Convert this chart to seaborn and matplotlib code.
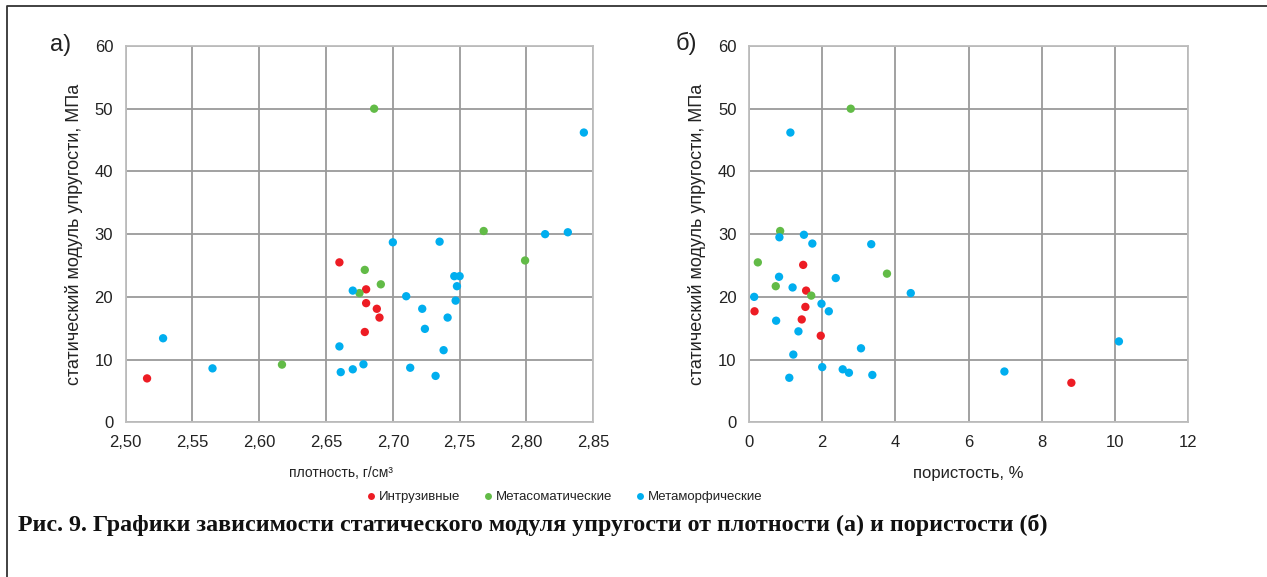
import pandas as pd
import matplotlib
matplotlib.use("Agg")
import matplotlib.pyplot as plt
from matplotlib.lines import Line2D
import seaborn as sns

# rock groups
groups = ["Интрузивные", "Метасоматические", "Метаморфические"]
colors = ["#ED1C24", "#62BB47", "#00AEEF"]

# panel a: density (g/cm3) vs static modulus (MPa)
dens_intr = [2.516, 2.660, 2.680, 2.680, 2.688, 2.690, 2.679]
mod_intr_a = [7.0, 25.5, 21.2, 19.0, 18.1, 16.7, 14.4]
dens_meta = [2.686, 2.679, 2.691, 2.675, 2.617, 2.768, 2.799]
mod_meta_a = [50.0, 24.3, 22.0, 20.6, 9.2, 30.5, 25.8]
dens_morph = [2.528, 2.565, 2.660, 2.661, 2.670, 2.678, 2.670, 2.700,
              2.710, 2.713, 2.722, 2.724, 2.732, 2.735, 2.738, 2.741,
              2.746, 2.750, 2.748, 2.747, 2.814, 2.831, 2.843]
mod_morph_a = [13.4, 8.6, 12.1, 8.0, 8.45, 9.25, 21.0, 28.7,
               20.1, 8.7, 18.1, 14.9, 7.4, 28.8, 11.5, 16.7,
               23.3, 23.3, 21.7, 19.4, 30.0, 30.3, 46.2]

# panel b: porosity (%) vs static modulus (MPa)
por_intr = [0.15, 1.48, 1.56, 1.54, 1.44, 1.96, 8.81]
mod_intr_b = [17.7, 25.1, 21.0, 18.4, 16.4, 13.8, 6.3]
por_meta = [2.78, 0.85, 0.24, 0.73, 1.70, 3.77]
mod_meta_b = [50.0, 30.5, 25.5, 21.7, 20.2, 23.7]
por_morph = [1.13, 0.83, 1.50, 1.73, 3.34, 0.82, 2.37, 1.19, 0.14,
             4.42, 1.98, 2.18, 0.74, 1.35, 3.06, 1.21, 10.11, 2.00,
             2.56, 2.73, 3.37, 1.10, 6.98]
mod_morph_b = [46.2, 29.5, 29.9, 28.5, 28.4, 23.2, 23.0, 21.5, 20.0,
               20.6, 18.9, 17.7, 16.2, 14.5, 11.8, 10.8, 12.9, 8.8,
               8.45, 7.9, 7.55, 7.1, 8.1]

y_ticks = [0, 10, 20, 30, 40, 50, 60]
dens_ticks = [2.50, 2.55, 2.60, 2.65, 2.70, 2.75, 2.80, 2.85]
por_ticks = [0, 2, 4, 6, 8, 10, 12]


def make_frame(xs, ys):
    rows = []
    for g, x, y in zip(groups, xs, ys):
        rows.append(pd.DataFrame({"x": x, "y": y, "group": g}))
    return pd.concat(rows, ignore_index=True)


df_a = make_frame([dens_intr, dens_meta, dens_morph],
                  [mod_intr_a, mod_meta_a, mod_morph_a])
df_b = make_frame([por_intr, por_meta, por_morph],
                  [mod_intr_b, mod_meta_b, mod_morph_b])

sns.set_style("white")
plt.rcParams["font.family"] = ["Liberation Sans", "DejaVu Sans"]
palette = dict(zip(groups, colors))

fig = plt.figure(figsize=(12.67, 5.77), dpi=100)
ax_a = fig.add_axes([0.0992, 0.2681, 0.369, 0.6522])
ax_b = fig.add_axes([0.5912, 0.2681, 0.3465, 0.6522])

for ax, df in [(ax_a, df_a), (ax_b, df_b)]:
    sns.scatterplot(data=df, x="x", y="y", hue="group", hue_order=groups,
                    palette=palette, s=36, edgecolor="none", legend=False,
                    ax=ax, zorder=3)
    ax.set_ylim(0, 60)
    ax.set_yticks(y_ticks)
    ax.grid(True, color="#9a9a9a", linewidth=1.3)
    ax.set_axisbelow(True)
    for sp in ax.spines.values():
        sp.set_color("#bdbdbd")
        sp.set_linewidth(1.3)
    ax.tick_params(axis="both", length=0, labelsize=12, pad=9,
                   labelcolor="#222222")
    ax.set_ylabel("статический модуль упругости, МПа", fontsize=13,
                  color="#222222", labelpad=8.5)

ax_a.set_xlim(2.50, 2.85)
ax_a.set_xticks(dens_ticks)
ax_a.set_xticklabels([f"{t:.2f}".replace(".", ",") for t in dens_ticks])
ax_a.set_xlabel("плотность, г/см³", fontsize=10, color="#222222")
ax_a.xaxis.set_label_coords(0.46, -0.115)

ax_b.set_xlim(0, 12)
ax_b.set_xticks(por_ticks)
ax_b.set_xlabel("пористость, %", fontsize=12, color="#222222")
ax_b.xaxis.set_label_coords(0.5, -0.115)

fig.text(61 / 1267, 1 - 45 / 577, "а)", fontsize=17, ha="center",
         va="center", color="#222222")
fig.text(686 / 1267, 1 - 43 / 577, "б)", fontsize=17, ha="center",
         va="center", color="#222222")

handles = [Line2D([], [], marker="o", linestyle="none", markersize=5,
                  markerfacecolor=c, markeredgecolor="none") for c in colors]
fig.legend(handles, groups, loc="center", ncol=3, frameon=False,
           bbox_to_anchor=(563 / 1267, 1 - 497 / 577),
           prop={"size": 9.5}, handlelength=1.0,
           handletextpad=0.1, columnspacing=1.6, labelcolor="#222222")

fig.text(18 / 1267, 1 - 525 / 577,
         "Рис. 9. Графики зависимости статического модуля упругости от плотности (а) и пористости (б)",
         fontsize=17.3, fontweight="bold", family="Liberation Serif",
         ha="left", va="center", color="#111111")

# frame around the figure (left and top sides)
fig.add_artist(Line2D([7 / 1267, 7 / 1267, 1.0], [0.0, 1 - 6 / 577, 1 - 6 / 577],
                      transform=fig.transFigure, color="#333333", linewidth=1.3))

fig.savefig("out.png", dpi=100)
